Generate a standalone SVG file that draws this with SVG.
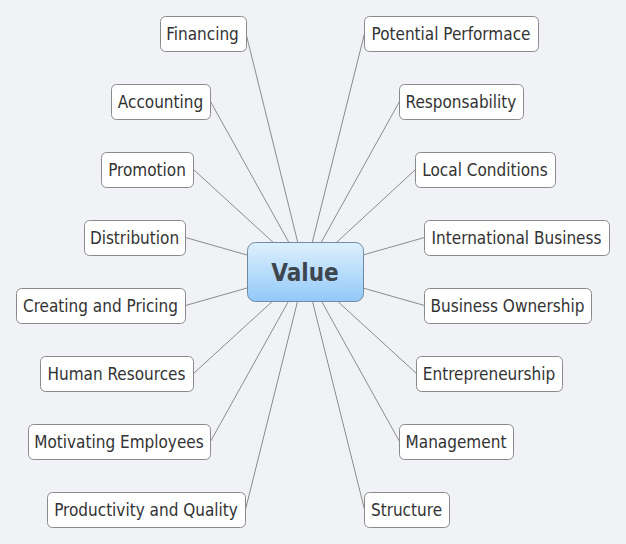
<svg xmlns="http://www.w3.org/2000/svg" width="626" height="544" viewBox="0 0 626 544">
<defs>
<linearGradient id="cg" x1="0" y1="0" x2="0" y2="1">
<stop offset="0" stop-color="#def0fd"/>
<stop offset="1" stop-color="#92c9f8"/>
</linearGradient>
<style>
.n rect{fill:#ffffff;stroke:#8a8a8a;stroke-width:1}
.n text{font-family:"DejaVu Sans Condensed","DejaVu Sans",Verdana,sans-serif;font-size:17px;fill:#333333;text-anchor:middle}
#connectors line{stroke:#8c8c8c;stroke-width:1}
</style>
</defs>
<rect x="0" y="0" width="626" height="544" fill="#f1f2f6"/>
<g id="connectors">
<line x1="305" y1="271.5" x2="246" y2="33.5"/>
<line x1="305" y1="271.5" x2="210.5" y2="101.5"/>
<line x1="305" y1="271.5" x2="193.5" y2="169.5"/>
<line x1="305" y1="271.5" x2="185.5" y2="237.5"/>
<line x1="305" y1="271.5" x2="185.5" y2="305.5"/>
<line x1="305" y1="271.5" x2="193.5" y2="373.5"/>
<line x1="305" y1="271.5" x2="210.5" y2="441.5"/>
<line x1="305" y1="271.5" x2="245.5" y2="509.5"/>
<line x1="305" y1="271.5" x2="364.5" y2="33.5"/>
<line x1="305" y1="271.5" x2="399.5" y2="101.5"/>
<line x1="305" y1="271.5" x2="415.5" y2="169.5"/>
<line x1="305" y1="271.5" x2="424.5" y2="237.5"/>
<line x1="305" y1="271.5" x2="424.5" y2="305.5"/>
<line x1="305" y1="271.5" x2="416.5" y2="373.5"/>
<line x1="305" y1="271.5" x2="399.5" y2="441.5"/>
<line x1="305" y1="271.5" x2="364.5" y2="509.5"/>
</g>
<g id="n-value">
<rect x="247.5" y="242.5" width="116" height="59" rx="8" fill="url(#cg)" stroke="#6f8aa3" stroke-width="1"/>
<text x="305" y="280.5" font-family="'DejaVu Sans Condensed','DejaVu Sans',Verdana,sans-serif" font-size="24" font-weight="bold" fill="#3d454e" text-anchor="middle">Value</text>
</g>
<g id="n-financing" class="n"><rect x="160.5" y="16.5" width="86" height="35" rx="5"/><text x="202.5" y="39.5">Financing</text></g>
<g id="n-accounting" class="n"><rect x="111.5" y="84.5" width="99" height="35" rx="5"/><text x="160.5" y="107.5">Accounting</text></g>
<g id="n-promotion" class="n"><rect x="101.5" y="152.5" width="92" height="35" rx="5"/><text x="147" y="175.5">Promotion</text></g>
<g id="n-distribution" class="n"><rect x="84.5" y="220.5" width="101" height="35" rx="5"/><text x="134.5" y="243.5">Distribution</text></g>
<g id="n-creating" class="n"><rect x="16.5" y="288.5" width="169" height="35" rx="5"/><text x="100.5" y="311.5">Creating and Pricing</text></g>
<g id="n-human" class="n"><rect x="40.5" y="356.5" width="153" height="35" rx="5"/><text x="116.5" y="379.5">Human Resources</text></g>
<g id="n-motivating" class="n"><rect x="28.5" y="424.5" width="182" height="35" rx="5"/><text x="119" y="447.5">Motivating Employees</text></g>
<g id="n-productivity" class="n"><rect x="47.5" y="492.5" width="198" height="35" rx="5"/><text x="146" y="515.5">Productivity and Quality</text></g>
<g id="n-potential" class="n"><rect x="364.5" y="16.5" width="174" height="35" rx="5"/><text x="451" y="39.5">Potential Performace</text></g>
<g id="n-responsability" class="n"><rect x="399.5" y="84.5" width="124" height="35" rx="5"/><text x="461" y="107.5">Responsability</text></g>
<g id="n-local" class="n"><rect x="415.5" y="152.5" width="140" height="35" rx="5"/><text x="485" y="175.5">Local Conditions</text></g>
<g id="n-international" class="n"><rect x="424.5" y="220.5" width="185" height="35" rx="5"/><text x="516.5" y="243.5">International Business</text></g>
<g id="n-ownership" class="n"><rect x="424.5" y="288.5" width="167" height="35" rx="5"/><text x="507.5" y="311.5">Business Ownership</text></g>
<g id="n-entrepreneurship" class="n"><rect x="416.5" y="356.5" width="146" height="35" rx="5"/><text x="489" y="379.5">Entrepreneurship</text></g>
<g id="n-management" class="n"><rect x="399.5" y="424.5" width="114" height="35" rx="5"/><text x="456" y="447.5">Management</text></g>
<g id="n-structure" class="n"><rect x="364.5" y="492.5" width="85" height="35" rx="5"/><text x="406.5" y="515.5">Structure</text></g>
</svg>
